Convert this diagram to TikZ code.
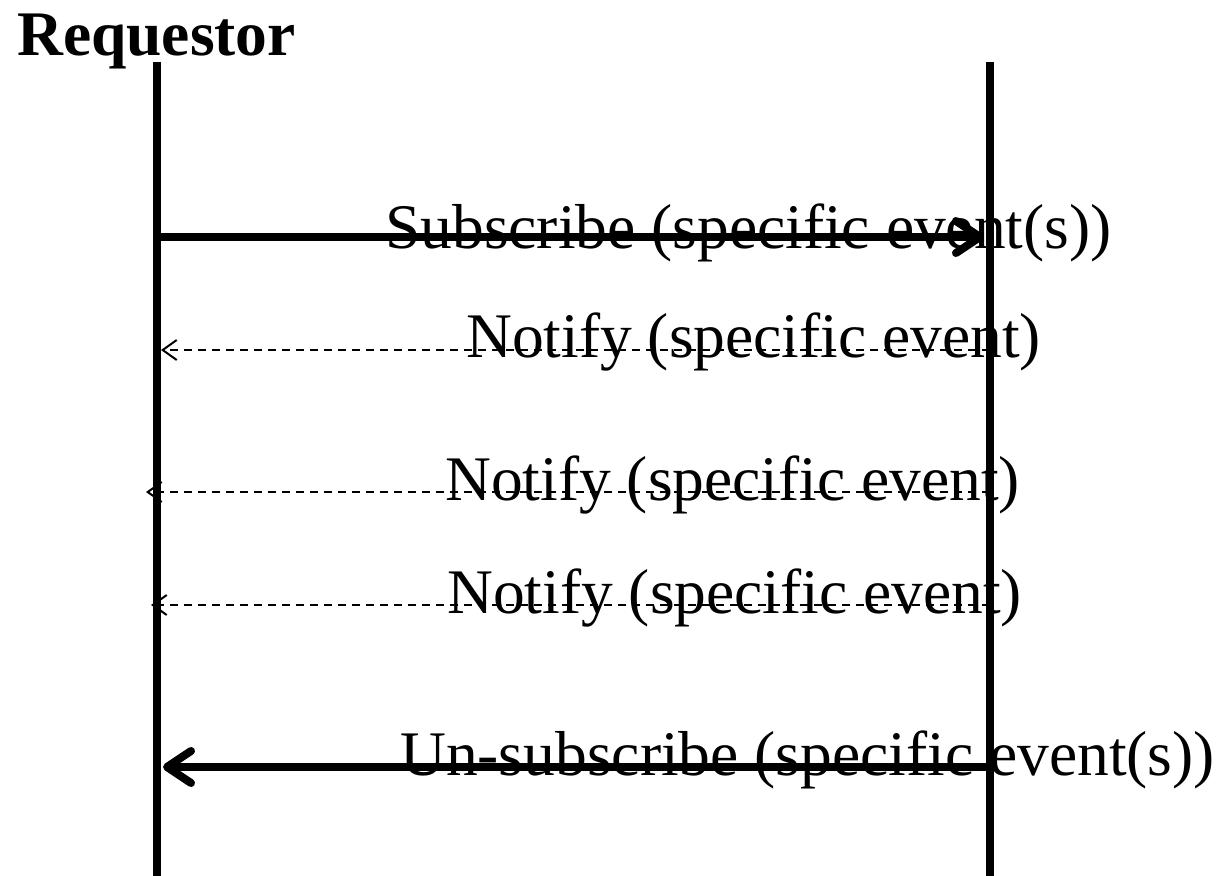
\documentclass[tikz,border=0pt]{standalone}
\usepackage{fontspec}
\setmainfont{Liberation Serif}
\usetikzlibrary{arrows.meta}
\tikzset{
	lifeline/.style={line width=8bp},
	callmsg/.style={line width=8bp, -{Straight Barb[length=24bp, width=32bp, round]}},
	notifymsg/.style={line width=2bp, dash pattern=on 8bp off 6bp, -{Straight Barb[length=14bp, width=20bp]}},
	msgtext/.style={inner sep=0pt, anchor=base west, font=\fontsize{63.5bp}{76bp}\selectfont}
}

\begin{document}
\begin{tikzpicture}[x=1bp, y=-1bp]
		\useasboundingbox (0,0) rectangle (1224,876);
		% lifelines
		\node(R)[msgtext, font=\fontsize{63.5bp}{76bp}\selectfont\bfseries] at (17,55){Requestor};
		\coordinate(Rtop) at (157,62);
		\coordinate(Rbot) at (157,876);
		\coordinate(Ptop) at (990,62);
		\coordinate(Pbot) at (990,876);
		\draw[lifeline](Rtop) -- (Rbot);
		\draw[lifeline](Ptop) -- (Pbot);
		% messages
		\coordinate(S1) at (157,237);
		\coordinate(S2) at (984,237);
		\coordinate(N1a) at (990,350);
		\coordinate(N1b) at (161,350);
		\coordinate(N2a) at (990,492);
		\coordinate(N2b) at (146,492);
		\coordinate(N3a) at (990,605);
		\coordinate(N3b) at (151,605);
		\coordinate(U1) at (990,767);
		\coordinate(U2) at (163,767);
		\node(Sub)[msgtext] at (385,248){Subscribe (specific event(s))};
		\node(Not1)[msgtext] at (466,357){Notify (specific event)};
		\node(Not2)[msgtext] at (445,500){Notify (specific event)};
		\node(Not3)[msgtext] at (447,613){Notify (specific event)};
		\node(Unsub)[msgtext] at (400,775){Un-subscribe (specific event(s))};
		\draw[callmsg](S1) -- (S2);
		\draw[notifymsg](N1a) -- (N1b);
		\draw[notifymsg](N2a) -- (N2b);
		\draw[notifymsg](N3a) -- (N3b);
		\draw[callmsg](U1) -- (U2);
	\end{tikzpicture}
\end{document}
